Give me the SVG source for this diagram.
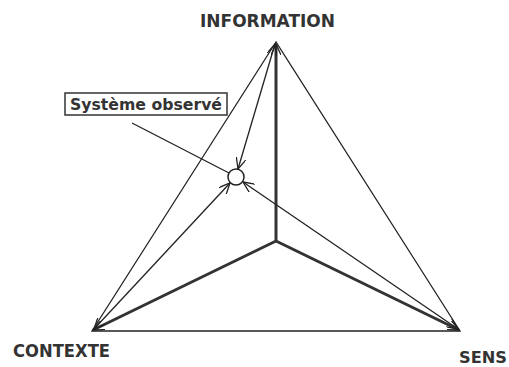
<svg xmlns="http://www.w3.org/2000/svg" width="509" height="367" viewBox="0 0 509 367">
<defs>
<style>
.t{font-family:"DejaVu Sans","Liberation Sans",sans-serif;font-weight:bold;fill:#333;}
.thin{stroke:#222;stroke-width:1.3;fill:none;}
.thick{stroke:#333;stroke-width:3;fill:none;}
</style>
<marker id="a" viewBox="0 0 12 10" refX="11" refY="5" markerWidth="12" markerHeight="10" markerUnits="userSpaceOnUse" orient="auto-start-reverse">
<path d="M0,0 L11,5 L0,10" fill="none" stroke="#222" stroke-width="1.3"/>
</marker>
</defs>
<rect width="509" height="367" fill="#fff"/>
<g id="connectors">
<path class="thin" d="M276,42 L92,331 L460,331 Z"/>
<line class="thick" x1="276" y1="241" x2="276" y2="44" marker-end="url(#a)"/>
<line class="thick" x1="276" y1="241" x2="93" y2="330" marker-end="url(#a)"/>
<line class="thick" x1="276" y1="241" x2="459" y2="330" marker-end="url(#a)"/>
<line class="thin" x1="238" y1="169" x2="275" y2="44" marker-start="url(#a)" marker-end="url(#a)"/>
<line class="thin" x1="230" y1="183" x2="94" y2="329" marker-start="url(#a)" marker-end="url(#a)"/>
<line class="thin" x1="243" y1="182" x2="458" y2="329" marker-start="url(#a)" marker-end="url(#a)"/>
<line class="thin" x1="132" y1="123" x2="229" y2="173"/>
</g>
<g id="information"><text class="t" x="200" y="27" font-size="17" textLength="135" lengthAdjust="spacingAndGlyphs">INFORMATION</text></g>
<g id="contexte"><text class="t" x="13" y="357" font-size="17" textLength="97" lengthAdjust="spacingAndGlyphs">CONTEXTE</text></g>
<g id="sens"><text class="t" x="459" y="363" font-size="15" textLength="48" lengthAdjust="spacingAndGlyphs">SENS</text></g>
<g id="systeme">
<rect x="65" y="93" width="162" height="22" fill="#fff" stroke="#333" stroke-width="1.5"/>
<text class="t" x="70" y="110" font-size="15" textLength="152" lengthAdjust="spacingAndGlyphs">Système observé</text>
</g>
<g id="circle"><circle cx="236" cy="177" r="8" fill="#fff" stroke="#222" stroke-width="1.5"/></g>
</svg>
